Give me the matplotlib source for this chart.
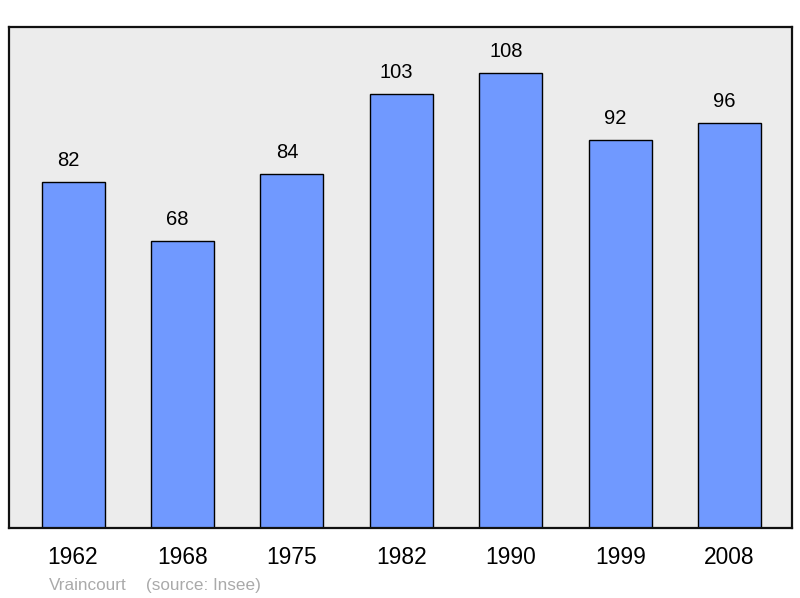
import matplotlib
matplotlib.use("Agg")
import matplotlib.pyplot as plt
import matplotlib.transforms as mtransforms

years = ["1962", "1968", "1975", "1982", "1990", "1999", "2008"]
population = [82, 68, 84, 103, 108, 92, 96]
commune = "Vraincourt"
source = "(source: Insee)"

plt.rcParams['font.family'] = ['Liberation Sans', 'DejaVu Sans']

fig = plt.figure(figsize=(8, 5.98), dpi=100)
ax = fig.add_axes([9/800, 70/598, 783/800, 501/598])
ax.set_facecolor('#ececec')

x = list(range(len(years)))
ax.bar(x, population, width=0.576, color='#7099ff', edgecolor='black', linewidth=1.0, zorder=2)
shift = mtransforms.offset_copy(ax.transData, fig=fig, x=-5, y=0, units='dots')
for xi, v in zip(x, population):
    ax.text(xi, v + 2.9, str(v), ha='center', va='bottom', fontsize=14.5, color='black',
            transform=shift)

ax.set_xlim(-0.585, 6.57)
ax.set_ylim(0, 118.9)
ax.set_yticks([])
ax.set_xticks(x)
ax.set_xticklabels(years, fontsize=16.4)
ax.tick_params(axis='x', length=0, pad=13)
for s in ax.spines.values():
    s.set_linewidth(1.6)
    s.set_color('#111111')

fig.text(49/800, 1 - 590/598, commune, fontsize=12.3, color='#aaaaaa', ha='left', va='baseline')
fig.text(146/800, 1 - 590/598, source, fontsize=12.3, color='#aaaaaa', ha='left', va='baseline')

fig.savefig('out.png', dpi=100)
